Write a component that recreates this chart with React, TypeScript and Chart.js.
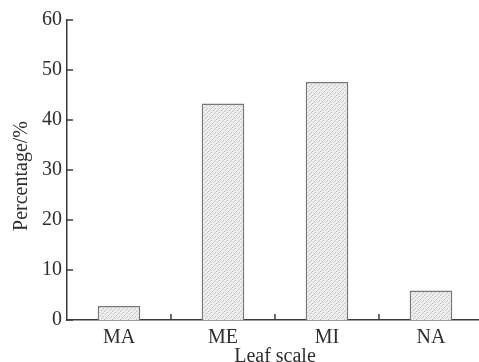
import React, { useEffect, useRef } from "react";
import { Chart, registerables } from "chart.js";

Chart.register(...registerables);

const categories = ["MA", "ME", "MI", "NA"];
const percentages = [2.8, 43.3, 47.6, 5.9];
const yMin = 0;
const yMax = 60;
const yStep = 10;
const xTitle = "Leaf scale";
const yTitle = "Percentage/%";

const FONT = "'Liberation Serif', 'Times New Roman', serif";
const TEXT = "#2e2e2e";
const AXIS = "#3a3a3a";

function makePattern(): CanvasPattern | string {
  const c = document.createElement("canvas");
  c.width = 8;
  c.height = 8;
  const g = c.getContext("2d");
  if (!g) return "#e2e2e2";
  g.fillStyle = "#ededed";
  g.fillRect(0, 0, 8, 8);
  g.fillStyle = "#bdbdbd";
  const dots = [
    [0, 7], [2, 5], [4, 3], [6, 1],
    [1, 2], [5, 6], [3, 0], [7, 4],
  ];
  dots.forEach(([x, y]) => g.fillRect(x, y, 1, 1));
  g.fillStyle = "#d2d2d2";
  [[1, 6], [3, 4], [5, 2], [7, 0], [2, 1], [6, 5]].forEach(([x, y]) =>
    g.fillRect(x, y, 1, 1)
  );
  const p = g.createPattern(c, "repeat");
  return p || "#e2e2e2";
}

const decorPlugin = {
  id: "decor",
  afterDraw(chart: any) {
    const { ctx, chartArea, scales } = chart;
    const xs = scales.x;
    const ys = scales.y;
    ctx.save();
    ctx.strokeStyle = AXIS;
    ctx.lineWidth = 1.5;
    // inward y ticks
    ys.ticks.forEach((t: any) => {
      const y = ys.getPixelForValue(t.value);
      ctx.beginPath();
      ctx.moveTo(chartArea.left, y);
      ctx.lineTo(chartArea.left + 6, y);
      ctx.stroke();
    });
    // inward x ticks between categories
    for (let i = 0; i < categories.length - 1; i++) {
      const x = (xs.getPixelForValue(i) + xs.getPixelForValue(i + 1)) / 2;
      ctx.beginPath();
      ctx.moveTo(x, chartArea.bottom);
      ctx.lineTo(x, chartArea.bottom - 6);
      ctx.stroke();
    }
    // titles
    ctx.fillStyle = TEXT;
    ctx.font = `20px ${FONT}`;
    ctx.textAlign = "center";
    ctx.textBaseline = "middle";
    ctx.fillText(xTitle, (chartArea.left + chartArea.right) / 2, 357);
    ctx.save();
    ctx.translate(22, 176);
    ctx.rotate(-Math.PI / 2);
    ctx.fillText(yTitle, 0, 0);
    ctx.restore();
    ctx.restore();
  },
};

export default function App() {
  const ref = useRef<HTMLCanvasElement>(null);

  useEffect(() => {
    if (!ref.current) return;
    const chart = new Chart(ref.current, {
      type: "bar",
      data: {
        labels: categories,
        datasets: [
          {
            data: percentages,
            backgroundColor: makePattern() as any,
            borderColor: "#777777",
            borderWidth: 1.5,
            barPercentage: 0.41,
            categoryPercentage: 1,
          },
        ],
      },
      options: {
        responsive: false,
        animation: false,
        layout: { padding: { top: 20, right: 2, left: 0, bottom: 0 } },
        plugins: {
          legend: { display: false },
          tooltip: { enabled: false },
        },
        scales: {
          x: {
            grid: { display: false, drawTicks: false },
            border: { color: AXIS, width: 1.5 },
            ticks: {
              color: TEXT,
              font: { family: FONT, size: 20 },
              padding: 6,
            },
            afterFit: (s: any) => {
              s.height = 42;
            },
          },
          y: {
            min: yMin,
            max: yMax,
            grid: { display: false, drawTicks: false },
            border: { color: AXIS, width: 1.5 },
            ticks: {
              stepSize: yStep,
              color: TEXT,
              font: { family: FONT, size: 20 },
              padding: 5,
            },
            afterFit: (s: any) => {
              s.width = 67;
            },
          },
        },
      },
      plugins: [decorPlugin],
    });
    return () => chart.destroy();
  }, []);

  return (
    <div
      style={{
        position: "fixed",
        left: 0,
        top: 0,
        width: 479,
        height: 362,
        overflow: "hidden",
        background: "#fff",
      }}
    >
      <canvas
        ref={ref}
        width={485}
        height={362}
        style={{ display: "block", width: 485, height: 362 }}
      />
    </div>
  );
}
